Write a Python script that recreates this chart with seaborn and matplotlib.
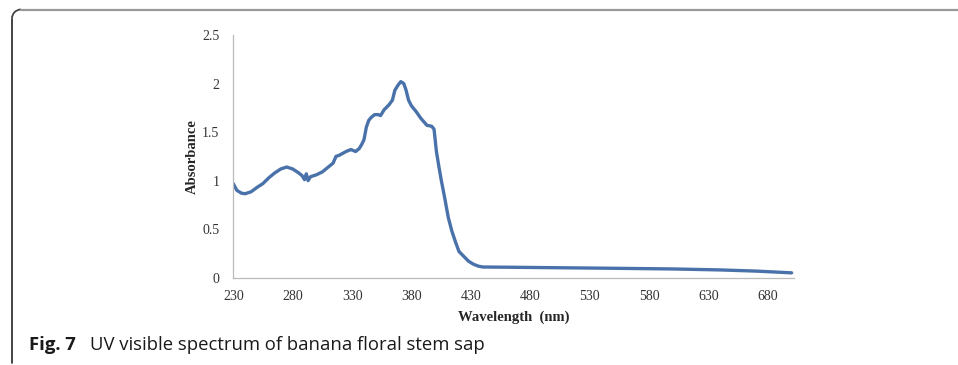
import numpy as np
import pandas as pd
import seaborn as sns
import matplotlib.pyplot as plt
from matplotlib.lines import Line2D
from matplotlib.patches import Arc

# absorbance
wavelength = [230, 233, 237, 240, 245, 250, 255, 260, 265, 270,
              275, 280, 285, 288, 290, 291.5, 293, 295, 300, 305,
              310, 314, 316.5, 319, 322, 325, 329, 333, 336, 338,
              340, 342, 344, 346, 349, 352, 354, 357, 361, 364,
              366, 368.5, 371, 373.5, 375.5, 377.5, 380, 384, 388, 393,
              397, 399, 401, 403, 405, 408, 411, 414, 417, 420,
              424, 428, 432, 436, 440, 460, 500, 550, 600, 640,
              670, 700]
absorbance = [0.97, 0.90, 0.87, 0.865, 0.885, 0.93, 0.97, 1.03, 1.08, 1.12,
              1.14, 1.12, 1.08, 1.05, 1.01, 1.07, 1.00, 1.04, 1.06, 1.09,
              1.14, 1.18, 1.25, 1.26, 1.28, 1.30, 1.32, 1.30, 1.33, 1.37,
              1.42, 1.55, 1.62, 1.65, 1.68, 1.68, 1.67, 1.73, 1.78, 1.83,
              1.93, 1.98, 2.02, 2.00, 1.93, 1.83, 1.77, 1.71, 1.64, 1.57,
              1.56, 1.53, 1.30, 1.15, 1.01, 0.82, 0.62, 0.48, 0.37, 0.27,
              0.22, 0.17, 0.14, 0.12, 0.11, 0.108, 0.103, 0.097, 0.09, 0.08,
              0.068, 0.05]
xticks = [230, 280, 330, 380, 430, 480, 530, 580, 630, 680]
yticks = [0, 0.5, 1, 1.5, 2, 2.5]

df = pd.DataFrame({"Wavelength": wavelength, "Absorbance": absorbance})

sns.set_style("white")
plt.rcParams['font.family'] = ['Liberation Serif', 'DejaVu Serif']

fig = plt.figure(figsize=(9.58, 3.65), dpi=100)
ax = fig.add_axes([0.2435, 0.2392, 0.5853, 0.6649])

sns.lineplot(data=df, x="Wavelength", y="Absorbance", ax=ax,
             color="#4a72aa", linewidth=2.4)

ax.set_xlim(230, 702)
ax.set_ylim(0, 2.5)
ax.set_xticks(xticks)
ax.set_yticks(yticks)
ax.set_yticklabels([f"{v:g}" for v in yticks])
ax.tick_params(axis="both", labelsize=10, labelcolor="#333333", color="#bbbbbb",
               length=3, width=0.8, direction="out")
ax.tick_params(axis="x", pad=6)
ax.tick_params(axis="y", pad=7)
sns.despine(ax=ax)
for s in ["left", "bottom"]:
    ax.spines[s].set_color("#bbbbbb")
    ax.spines[s].set_linewidth(0.9)

ax.set_xlabel("Wavelength  (nm)", fontsize=10.5, fontweight="bold")
ax.set_ylabel("Absorbance", fontsize=10.5, fontweight="bold")
ax.xaxis.set_label_coords(0.5, -0.134)
ax.yaxis.set_label_coords(-0.061, 0.5)

# frame around the figure (journal style)
W, H = 958, 365
r = 9
fig.add_artist(Line2D([(12 + r) / W, 1], [1 - 9.5 / H] * 2, color="#999999", lw=1.6))
fig.add_artist(Line2D([12 / W] * 2, [1 - (9.5 + r) / H, 1 - 363 / H], color="#222222", lw=1.2))
fig.add_artist(Arc(((12 + r) / W, 1 - (9.5 + r) / H), 2 * r / W, 2 * r / H,
                   theta1=90, theta2=180, color="#444444", lw=1.3,
                   transform=fig.transFigure))

# caption
t1 = fig.text(29 / W, 1 - 345 / H, "Fig. 7", family="Open Sans", weight="bold",
              fontsize=13.3, color="#1a1a1a", va="center")
fig.canvas.draw()
bb = t1.get_window_extent()
fig.text((bb.x1 + 14) / W, 1 - 345 / H, "UV visible spectrum of banana floral stem sap",
         family="Open Sans", fontsize=13.3, color="#1a1a1a", va="center")

fig.savefig("out.png", dpi=100)
